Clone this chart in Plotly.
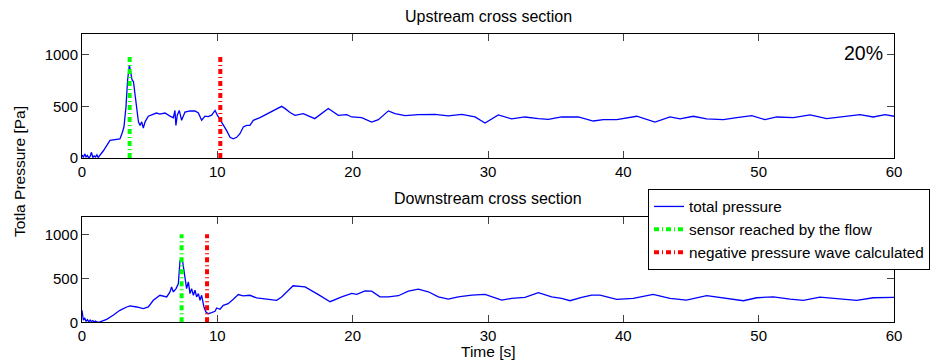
import plotly.graph_objects as go

# ---- measured total pressure, upstream cross section (time [s], pressure [Pa]) ----
t_up = [0, 0.1, 0.2, 0.3, 0.4, 0.5, 0.6, 0.7, 0.8, 0.9, 1.0, 1.1, 1.2, 1.58,
        2.07, 2.3, 2.8, 2.95, 3.1, 3.25, 3.37, 3.5, 3.6, 3.7, 3.8, 3.9,
        4.04, 4.17, 4.29, 4.41, 4.53, 4.66, 4.9, 5.15, 5.5, 5.76, 6.13, 6.5,
        6.75, 6.87, 6.94, 7.04, 7.19, 7.36, 7.61, 7.98, 8.35, 8.6, 8.84, 9.09,
        9.33, 9.58, 9.83, 10.0, 10.2, 10.44, 10.69, 10.94, 11.18, 11.43, 11.67,
        11.92, 12.17, 12.41, 12.66, 13.15, 13.64, 14.14, 14.75, 14.99, 15.37,
        15.74, 16.35, 17.2, 18.2, 18.94, 19.56, 19.93, 20.67, 21.4, 21.9,
        22.64, 23.13, 23.87, 24.85, 26.08, 27.07, 28.06, 29.04, 29.78, 30.76,
        31.75, 32.73, 33.72, 34.46, 35.44, 36.67, 37.78, 38.52, 39.51, 40.99,
        42.34, 43.45, 44.19, 45.17, 46.16, 47.39, 48.38, 49.49, 50.47, 51.33,
        52.56, 53.8, 55.03, 56.26, 57.49, 58.47, 59.34, 60]
p_up = [30, 5, 40, 10, 25, 0, 15, 55, 5, 20, 10, 30, 5, 70,
        170, 175, 185, 235, 300, 495, 755, 900, 835, 755, 740, 625,
        460, 350, 315, 350, 290, 350, 405, 415, 435, 425, 435, 405,
        390, 460, 315, 415, 460, 365, 445, 455, 455, 435, 365, 405,
        400, 415, 460, 415, 370, 330, 265, 200, 185, 200, 235,
        300, 315, 315, 365, 390, 425, 455, 500, 480, 440,
        413, 430, 381, 479, 413, 420, 397, 391, 348, 371,
        456, 430, 410, 420, 423, 407, 423, 397, 338, 417,
        378, 397, 381, 374, 397, 397, 358, 371, 371, 404,
        348, 397, 378, 404, 378, 371, 391, 410, 371, 397,
        391, 417, 381, 397, 420, 397, 420, 404]

# ---- measured total pressure, downstream cross section ----
t_dn = [0, 0.05, 0.1, 0.2, 0.3, 0.4, 0.5, 0.6, 0.7, 0.8, 0.9, 1.0, 1.1, 1.33,
        1.82, 2.3, 2.8, 3.3, 3.55, 4.04, 4.53, 4.9, 5.27, 5.76, 6.0, 6.26,
        6.5, 6.62, 6.75, 6.95, 7.12, 7.24, 7.44, 7.54, 7.64, 7.73, 7.86, 7.98,
        8.1, 8.23, 8.35, 8.47, 8.6, 8.72, 8.84, 9.01, 9.16, 9.33, 9.58, 9.83,
        9.95, 10.2, 10.44, 10.8, 11.18, 11.55, 11.9, 12.41, 12.9, 13.4, 13.9,
        14.38, 14.75, 15.12, 15.6, 16.48, 16.7, 17.44, 18.33, 19.19, 19.93,
        20.3, 20.91, 21.4, 22.02, 22.64, 23.38, 24.11, 24.85, 25.59, 26.33,
        27.07, 27.8, 28.8, 29.78, 30.27, 31.01, 31.75, 32.73, 33.72, 34.7,
        35.44, 36.06, 36.92, 37.66, 38.28, 39.51, 40.74, 42.2, 43.45, 44.66,
        46.16, 47.64, 48.87, 49.86, 51.09, 52.32, 53.3, 54.53, 55.77, 57.24,
        58.47, 60]
p_dn = [136, 40, 23, 50, 10, 30, 5, 25, 8, 20, 5, 15, 3, 4,
        34, 80, 136, 174, 186, 174, 155, 174, 250, 307, 300, 288,
        345, 402, 345, 383, 440, 700, 686, 591, 496, 383, 459, 326,
        383, 307, 364, 288, 326, 250, 307, 174, 117, 98, 110, 125,
        163, 148, 193, 212, 262, 315, 300, 307, 277, 269, 262,
        250, 288, 345, 415, 403, 385, 317, 234, 290, 328,
        317, 358, 354, 290, 290, 302, 354, 377, 347, 290,
        264, 290, 309, 317, 290, 253, 271, 283, 336, 290,
        271, 245, 283, 309, 309, 260, 271, 317, 271, 253,
        302, 271, 245, 279, 290, 264, 249, 287, 271, 249,
        279, 283]

# ---- event times [s] and marker height [Pa] ----
flow_arrival = {"up": 3.52, "dn": 7.36}
neg_wave = {"up": 10.22, "dn": 9.24}
marker_height = [0, 1000]

x_ticks = [0, 10, 20, 30, 40, 50, 60]
y_ticks = [0, 500, 1000]

FONT = "Liberation Sans, Arial, Helvetica, sans-serif"
BLUE = "#0000ff"
GREEN = "#00ff00"
RED = "#ff0000"

fig = go.Figure()

panels = [("up", t_up, p_up, "x", "y", True), ("dn", t_dn, p_dn, "x2", "y2", False)]
for key, t, p, xa, ya, show in panels:
    fig.add_trace(go.Scatter(x=t, y=p, mode="lines", name="total pressure",
                             line=dict(color=BLUE, width=1.3),
                             xaxis=xa, yaxis=ya, showlegend=show))
    fig.add_trace(go.Scatter(x=[flow_arrival[key]] * 2, y=marker_height, mode="lines",
                             name="sensor reached by the flow",
                             line=dict(color=GREEN, width=4, dash="5px,3px,1px,3px"),
                             xaxis=xa, yaxis=ya, showlegend=show))
    fig.add_trace(go.Scatter(x=[neg_wave[key]] * 2, y=marker_height, mode="lines",
                             name="negative pressure wave calculated",
                             line=dict(color=RED, width=4, dash="5px,3px,1px,3px"),
                             xaxis=xa, yaxis=ya, showlegend=show))

W, H = 931, 362
x_dom = [82 / W, 894 / W]
axis_common = dict(showline=True, linecolor="black", linewidth=1, mirror="allticks",
                   ticks="inside", ticklen=7, tickcolor="#444", tickwidth=1,
                   showgrid=False, zeroline=False,
                   tickfont=dict(family=FONT, size=15, color="black"))

fig.update_layout(
    width=W, height=H,
    margin=dict(l=0, r=0, t=0, b=0, autoexpand=False),
    paper_bgcolor="white", plot_bgcolor="white",
    xaxis=dict(domain=x_dom, range=[0, 60], tickvals=x_ticks, anchor="y", **axis_common),
    yaxis=dict(domain=[1 - 158 / H, 1 - 34 / H], range=[0, 1200], tickvals=y_ticks,
               anchor="x", **axis_common),
    xaxis2=dict(domain=x_dom, range=[0, 60], tickvals=x_ticks, anchor="y2", **axis_common),
    yaxis2=dict(domain=[1 - 322.3 / H, 1 - 216.7 / H], range=[0, 1200], tickvals=y_ticks,
                anchor="x2", **axis_common),
    legend=dict(x=648 / W, y=1 - 189 / H, xanchor="left", yanchor="top",
                bgcolor="white", bordercolor="black", borderwidth=1,
                font=dict(family=FONT, size=15.3, color="black"),
                tracegroupgap=0),
    showlegend=True,
)

annotations = [
    dict(text="Upstream cross section", x=488 / W, y=1 - 16 / H, size=16),
    dict(text="Downstream cross section", x=488 / W, y=1 - 198 / H, size=16),
    dict(text="Time [s]", x=488 / W, y=1 - 351 / H, size=15.5),
]
for a in annotations:
    size = a.pop("size")
    fig.add_annotation(xref="paper", yref="paper", showarrow=False,
                       xanchor="center", yanchor="middle",
                       font=dict(family=FONT, size=size, color="black"), **a)

fig.add_annotation(text="Totla Pressure [Pa]", xref="paper", yref="paper",
                   x=19 / W, y=1 - 172 / H, textangle=-90, showarrow=False,
                   xanchor="center", yanchor="middle",
                   font=dict(family=FONT, size=15.5, color="black"))
fig.add_annotation(text="20%", xref="paper", yref="paper",
                   x=885 / W, y=1 - 53 / H, showarrow=False,
                   xanchor="right", yanchor="middle",
                   font=dict(family=FONT, size=19.5, color="black"))

fig.write_html("out.html")
